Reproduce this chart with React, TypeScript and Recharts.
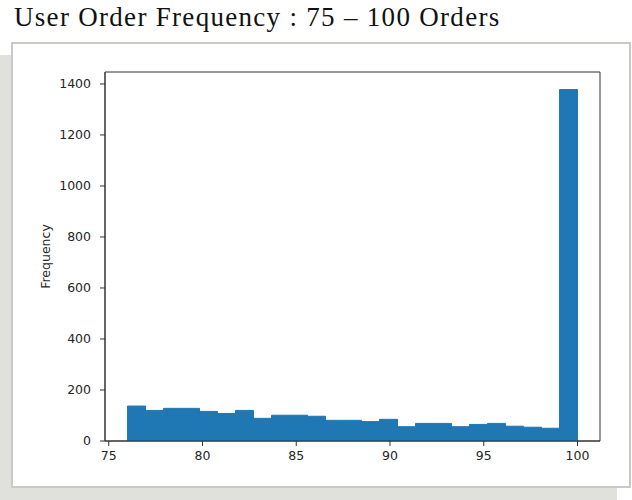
import { BarChart, Bar, XAxis, YAxis, ReferenceArea } from "recharts";

// histogram of users with 76..100 orders, one integer per bin
const orders = [76, 77, 78, 79, 80, 81, 82, 83, 84, 85, 86, 87, 88, 89, 90, 91, 92, 93, 94, 95, 96, 97, 98, 99, 100];
const counts = [137, 120, 128, 128, 116, 108, 120, 89, 101, 101, 97, 81, 81, 76, 85, 56, 69, 69, 56, 65, 69, 58, 54, 50, 1378];
const xTicks = [75, 80, 85, 90, 95, 100];
const yTicks = [0, 200, 400, 600, 800, 1000, 1200, 1400];

const TITLE = "User Order Frequency : 75 – 100 Orders";
const BLUE = "#1f77b4";
const INK = "#262626";
const AXIS_FONT = { fill: INK, fontSize: 12.5, fontFamily: "DejaVu Sans" };

// matplotlib-style bins: range split evenly, bars sit on bin centres
const lo = orders[0];
const hi = orders[orders.length - 1];
const binW = (hi - lo) / orders.length;
const rows = counts.map((c, i) => ({ x: lo + (i + 0.5) * binW, count: c }));
const pad = (hi - lo) * 0.05;
const xDomain = [lo - pad, hi + pad];
const yMax = Math.max(...counts) * 1.05;

export default function App() {
  return (
    <div style={{ position: "absolute", left: 0, top: 0, width: 632, height: 500, overflow: "hidden", background: "#fff" }}>
      <div style={{ position: "absolute", left: 0, top: 55, width: 617, height: 445, background: "#e0e0dc" }} />
      <div
        style={{
          position: "absolute",
          left: 11,
          top: 42,
          width: 620,
          height: 446,
          boxSizing: "border-box",
          border: "2px solid #c9c9c5",
          background: "#fff",
        }}
      />
      <div
        style={{
          position: "absolute",
          left: 14,
          top: 4,
          fontFamily: "'Liberation Serif', serif",
          fontSize: 27,
          lineHeight: "27px",
          letterSpacing: 1.3,
          color: "#111",
          whiteSpace: "nowrap",
        }}
      >
        {TITLE}
      </div>
      <div style={{ position: "absolute", left: 0, top: 0 }}>
        <BarChart
          width={632}
          height={500}
          data={rows}
          margin={{ top: 72, right: 32, bottom: 29, left: 0 }}
          barCategoryGap={0}
          barGap={0}
        >
          <XAxis
            dataKey="x"
            type="number"
            domain={xDomain}
            ticks={xTicks}
            allowDataOverflow
            height={30}
            tickSize={5}
            tickMargin={5}
            tick={AXIS_FONT}
            axisLine={{ stroke: "#333" }}
            tickLine={{ stroke: "#333" }}
          />
          <YAxis
            type="number"
            domain={[0, yMax]}
            ticks={yTicks}
            allowDataOverflow
            width={105}
            tickSize={5}
            tickMargin={9}
            tick={AXIS_FONT}
            axisLine={{ stroke: "#333" }}
            tickLine={{ stroke: "#333" }}
            label={(p: any) => {
              const vb = p.viewBox || {};
              const cx = (vb.x || 0) + 45;
              const cy = (vb.y || 0) + (vb.height || 0) / 2;
              return (
                <text
                  x={cx}
                  y={cy}
                  transform={`rotate(-90, ${cx}, ${cy})`}
                  textAnchor="middle"
                  dominantBaseline="central"
                  fill={INK}
                  fontSize={12.5}
                  fontFamily="DejaVu Sans"
                >
                  Frequency
                </text>
              );
            }}
          />
          <Bar dataKey="count" fill={BLUE} stroke={BLUE} strokeWidth={1} isAnimationActive={false} />
          {/* top and right spines */}
          <ReferenceArea x1={xDomain[0]} x2={xDomain[1]} y1={0} y2={yMax} fill="none" stroke="#333" strokeOpacity={1} ifOverflow="visible" />
        </BarChart>
      </div>
    </div>
  );
}
